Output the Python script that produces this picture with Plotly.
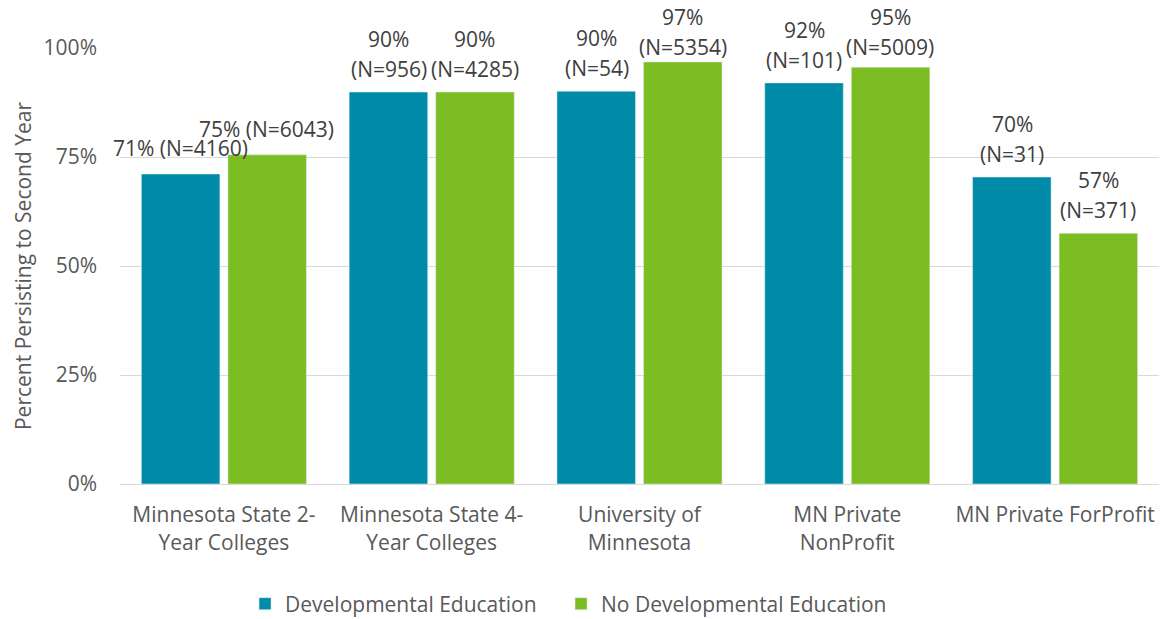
import plotly.graph_objects as go

categories = ["Minnesota State 2-<br>Year Colleges", "Minnesota State 4-<br>Year Colleges",
              "University of<br>Minnesota", "MN Private<br>NonProfit", "MN Private ForProfit"]
dev_values = [0.711, 0.899, 0.901, 0.92, 0.704]
nodev_values = [0.755, 0.899, 0.968, 0.956, 0.575]
dev_labels = ["71% (N=4160)", "90%<br>(N=956)", "90%<br>(N=54)", "92%<br>(N=101)", "70%<br>(N=31)"]
nodev_labels = ["75% (N=6043)", "90%<br>(N=4285)", "97%<br>(N=5354)", "95%<br>(N=5009)", "57%<br>(N=371)"]
tick_vals = [0, 0.25, 0.5, 0.75, 1.0]
tick_text = ["0%", "25%", "50%", "75%", "100%"]

FONT = "Open Sans"
TXT = "#595959"
LBL = "#404040"
BLUE = "#008CA8"
GREEN = "#7CBD23"

W, H = 1163, 619
M_T, M_B = 48, 135
PLOT_H = H - M_T - M_B

fig = go.Figure()
fig.add_trace(go.Bar(name="Developmental Education", x=categories, y=dev_values,
                     marker=dict(color=BLUE), legend="legend"))
fig.add_trace(go.Bar(name="No Developmental Education", x=categories, y=nodev_values,
                     marker=dict(color=GREEN), legend="legend2"))

# data labels, placed from the bar values through the axes;
# labels are kept inside the chart area (as the original does) by limiting the shift
annotations = []
for values, labels, shift in ((dev_values, dev_labels, -43), (nodev_values, nodev_labels, 43)):
    for cat, v, lab in zip(categories, values, labels):
        lines = lab.split("<br>")
        n = len(lines)
        bar_top_px = M_T + (1 - v) * PLOT_H
        top_off = (26 if n == 1 else 23) + 30 * (n - 1)
        clamp = max(0, top_off - (bar_top_px - 17))
        for i, line in enumerate(lines):
            off = (26 if n == 1 else 23) + 30 * (n - 1 - i) - clamp
            annotations.append(dict(x=cat, y=v, xref="x", yref="y", text=line,
                                    showarrow=False, xshift=shift, yshift=off,
                                    xanchor="center", yanchor="middle",
                                    font=dict(size=21, color=LBL, family=FONT)))

legend_style = dict(orientation="h", xref="container", yref="container",
                    xanchor="left", y=0.0242, yanchor="middle",
                    font=dict(size=21, color=TXT, family=FONT), borderwidth=0,
                    bgcolor="rgba(0,0,0,0)")

fig.update_layout(
    width=W, height=H,
    margin=dict(l=120, r=4, t=M_T, b=M_B),
    paper_bgcolor="white", plot_bgcolor="white",
    barmode="group", bargap=0.167, bargroupgap=0.0926,
    font=dict(family=FONT, size=21, color=TXT),
    showlegend=True,
    legend=dict(x=0.2107, **legend_style),
    legend2=dict(x=0.4824, **legend_style),
    annotations=annotations,
)
fig.update_yaxes(range=[0, 1.0], tickvals=tick_vals, ticktext=tick_text, automargin=False,
                 showgrid=True, gridcolor="#d9d9d9", gridwidth=1,
                 zeroline=True, zerolinecolor="#d9d9d9", zerolinewidth=1,
                 tickfont=dict(size=21, color=TXT), ticks="", ticklabelstandoff=22,
                 title=dict(text="Percent Persisting to Second Year", font=dict(size=21, color=TXT), standoff=6))
fig.update_xaxes(range=[-0.5, len(categories) - 0.5], showline=True, linecolor="#d9d9d9",
                 linewidth=1, automargin=False,
                 tickfont=dict(size=21, color=TXT), ticks="", ticklabelstandoff=12)

fig.write_html("out.html", config={"displayModeBar": False},
               post_script="document.body.style.margin='0';")
